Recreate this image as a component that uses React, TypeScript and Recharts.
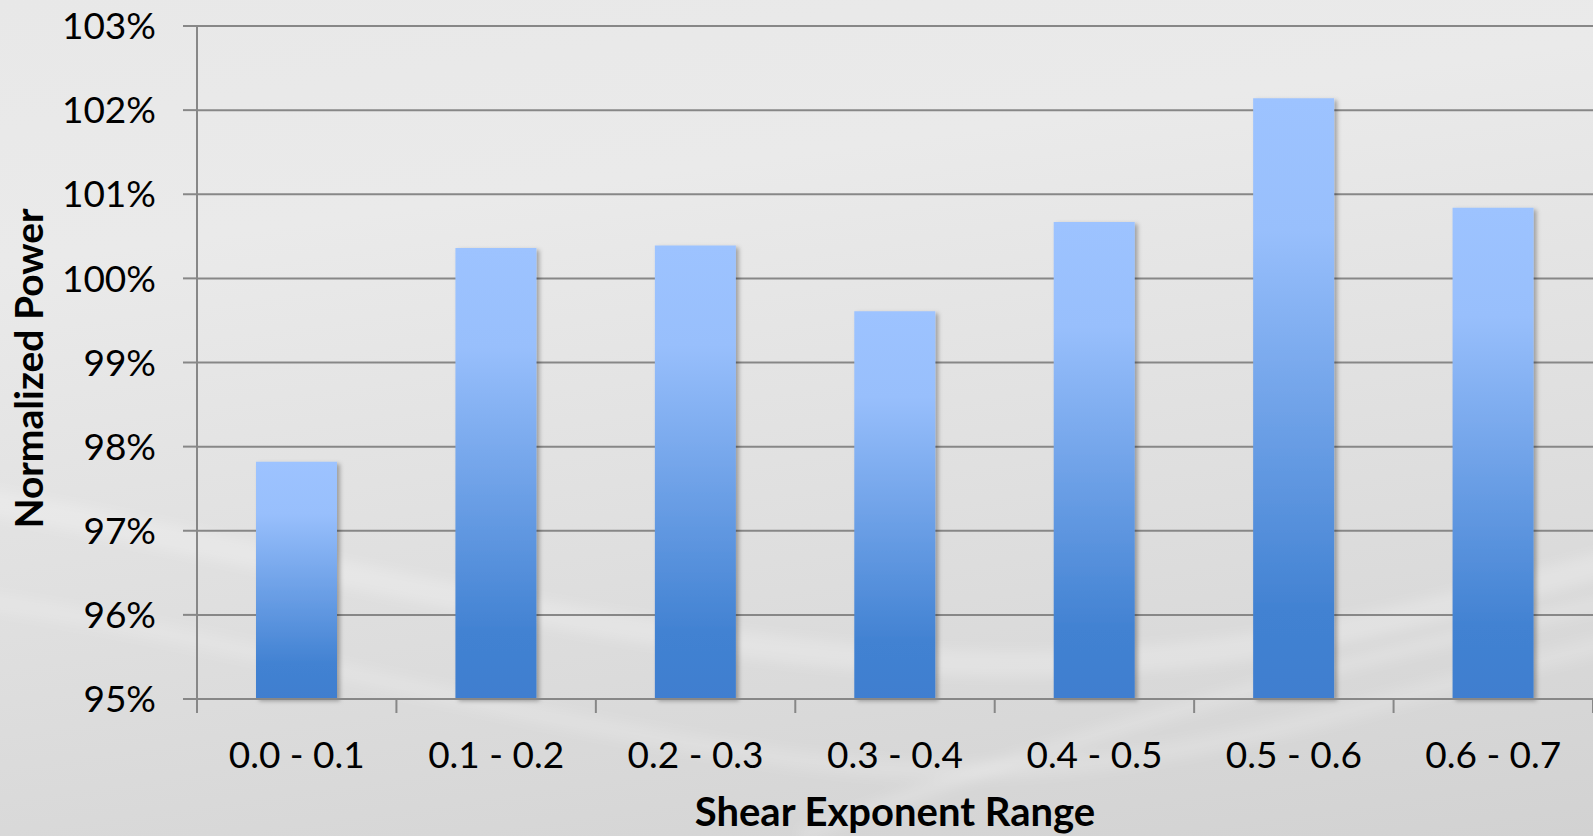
import React from 'react'
import { BarChart, Bar, XAxis, YAxis, CartesianGrid } from 'recharts'

const shearRanges = [
    '0.0 - 0.1',
    '0.1 - 0.2',
    '0.2 - 0.3',
    '0.3 - 0.4',
    '0.4 - 0.5',
    '0.5 - 0.6',
    '0.6 - 0.7',
]
const normalizedPower = [0.9782, 1.0036, 1.0039, 0.9961, 1.0067, 1.0214, 1.0084]
const powerTicks = [0.95, 0.96, 0.97, 0.98, 0.99, 1.0, 1.01, 1.02, 1.03]

const data = shearRanges.map((range, i) => ({ range, power: normalizedPower[i] }))

const WIDTH = 1593
const HEIGHT = 836
const Y_AXIS_W = 197
const BAND = (WIDTH - Y_AXIS_W) / shearRanges.length
const FONT = 'Lato, "Open Sans", sans-serif'
const AXIS_GRAY = '#878787'

function RangeTick(props: any) {
    const { x, y, payload, index } = props
    const half = BAND / 2
    return (
        <g>
            <line x1={x - half} y1={y} x2={x - half} y2={y + 14} stroke={AXIS_GRAY} strokeWidth={2} />
            {index === shearRanges.length - 1 && (
                <line x1={x + half} y1={y} x2={x + half} y2={y + 14} stroke={AXIS_GRAY} strokeWidth={2} />
            )}
            <text x={x} y={y + 69} textAnchor="middle" fill="#000" fontSize={37} fontFamily={FONT}>
                {payload.value}
            </text>
        </g>
    )
}

// faint light swooshes across the lower part of the backdrop
function Backdrop() {
    return (
        <svg width={WIDTH} height={HEIGHT} style={{ position: 'absolute', left: 0, top: 0 }}>
            <defs>
                <filter id="soft">
                    <feGaussianBlur stdDeviation={6} />
                </filter>
            </defs>
            <g filter="url(#soft)" fill="none" stroke="#fff">
                <path d="M -20 500 C 300 560, 600 640, 900 660 S 1400 620, 1620 560" strokeWidth={26} strokeOpacity={0.22} />
                <path d="M -20 600 C 250 640, 500 720, 800 760 S 1300 720, 1620 640" strokeWidth={18} strokeOpacity={0.16} />
                <path d="M 800 836 C 1000 760, 1250 680, 1620 600" strokeWidth={14} strokeOpacity={0.18} />
            </g>
        </svg>
    )
}

export default function App() {
    return (
        <div
            style={{
                position: 'absolute',
                left: 0,
                top: 0,
                width: WIDTH,
                height: HEIGHT,
                background: 'linear-gradient(172deg, #e8e8e8 0%, #eaeaea 25%, #dfdfdf 60%, #d2d2d2 100%)',
                overflow: 'hidden',
            }}
        >
            <Backdrop />
            <div style={{ position: 'absolute', left: 0, top: 0 }}>
                <BarChart
                    width={WIDTH}
                    height={HEIGHT}
                    data={data}
                    margin={{ top: 26, right: 0, left: 0, bottom: 0 }}
                >
                    <defs>
                        <linearGradient id="barFill" x1="0" y1="0" x2="0" y2="1">
                            <stop offset="0%" stopColor="#9dc3ff" />
                            <stop offset="22%" stopColor="#98bffc" />
                            <stop offset="85%" stopColor="#4282d2" />
                            <stop offset="100%" stopColor="#3f7ecf" />
                        </linearGradient>
                        <filter id="barShadow" x="-20%" y="-5%" width="140%" height="110%">
                            <feDropShadow dx={3} dy={2} stdDeviation={2} floodColor="#000" floodOpacity={0.3} />
                        </filter>
                    </defs>
                    <CartesianGrid vertical={false} stroke={AXIS_GRAY} strokeWidth={2} />
                    <XAxis
                        dataKey="range"
                        height={HEIGHT - 699}
                        axisLine={{ stroke: AXIS_GRAY, strokeWidth: 2 }}
                        tickLine={false}
                        tickSize={0}
                        tickMargin={0}
                        interval={0}
                        tick={<RangeTick />}
                        label={{
                            value: 'Shear Exponent Range',
                            position: 'insideBottom',
                            offset: 10,
                            style: { fontSize: 40, fontWeight: 700, fontFamily: FONT, fill: '#000' },
                        }}
                    />
                    <YAxis
                        width={Y_AXIS_W}
                        domain={[0.95, 1.03]}
                        ticks={powerTicks}
                        interval={0}
                        tickFormatter={(v: number) => `${Math.round(v * 100)}%`}
                        axisLine={{ stroke: AXIS_GRAY, strokeWidth: 2 }}
                        tickLine={{ stroke: AXIS_GRAY, strokeWidth: 2 }}
                        tickSize={14}
                        tickMargin={27}
                        tick={{ fill: '#000', fontSize: 37, fontFamily: FONT }}
                        label={{
                            value: 'Normalized Power',
                            angle: -90,
                            position: 'insideLeft',
                            offset: 29,
                            dy: 6,
                            style: { textAnchor: 'middle', fontSize: 39, fontWeight: 700, fontFamily: FONT, fill: '#000' },
                        }}
                    />
                    <Bar
                        dataKey="power"
                        barSize={81}
                        fill="url(#barFill)"
                        filter="url(#barShadow)"
                        isAnimationActive={false}
                    />
                </BarChart>
            </div>
        </div>
    )
}
